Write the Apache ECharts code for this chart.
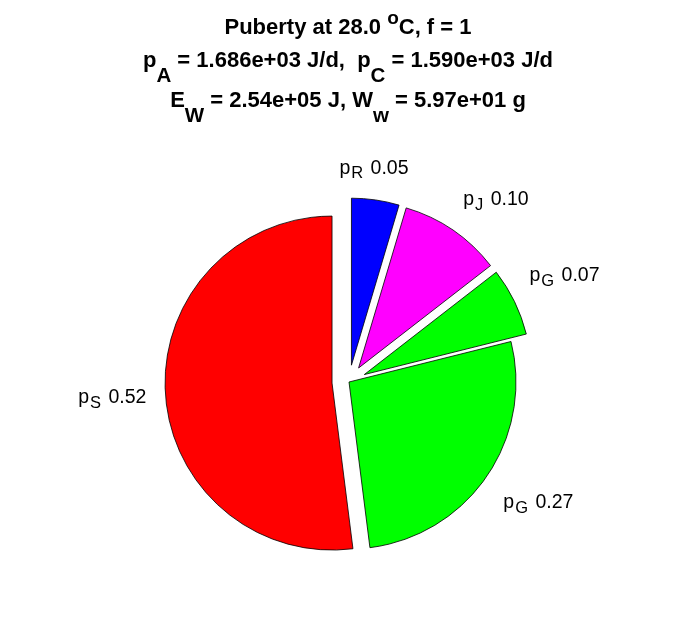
<!DOCTYPE html>
<html><head><meta charset="utf-8">
<script src="https://cdn.jsdelivr.net/npm/echarts@6/dist/echarts.min.js"></script>
<style>html,body{margin:0;padding:0;background:#fff}#c{width:696px;height:618px}</style>
</head><body><div id="c"></div>
<script>
// ---- data ----
const sliceSymbols = ['R', 'J', 'G', 'G', 'S'];
const sliceValues = [0.046, 0.099, 0.066, 0.269, 0.520];
const sliceColors = ['#0000ff', '#ff00ff', '#00ff00', '#00ff00', '#ff0000'];
const sliceExploded = [true, true, true, false, true];
const titleTemp = '28.0';
const titleF = '1';
const valPA = '1.686e+03';
const valPC = '1.590e+03';
const valEW = '2.54e+05';
const valWw = '5.97e+01';

// label nudges (px) to mimic MATLAB text placement
const labelNudge = [[-44, -12], [-6, -14], [-8, -17], [-5, 15], [6, 3]];

const FONT = '"Liberation Sans", Arial, Helvetica, sans-serif';
const tMain = {fontFamily: FONT, fontSize: 22, fontWeight: 'bold', color: '#000', lineHeight: 24, verticalAlign: 'top'};
const tSub = Object.assign({}, tMain, {fontSize: 20.5, padding: [16, 0, 0, 0]});
const tSup = Object.assign({}, tMain, {fontSize: 19});
const lMain = {fontFamily: FONT, fontSize: 19.5, color: '#000', lineHeight: 20, verticalAlign: 'top'};
const lSub = Object.assign({}, lMain, {fontSize: 16.5, padding: [7, 2, 0, 1]});

const chart = echarts.init(document.getElementById('c'), null, {renderer: 'canvas'});
const option = {
  animation: false,
  backgroundColor: '#fff',
  title: [
    {left: 'center', top: 9, padding: 0,
     text: `{m|Puberty at ${titleTemp} }{u|o}{m|C, f = ${titleF}}`,
     textStyle: {rich: {m: Object.assign({}, tMain, {padding: [7.5, 0, 0, 0]}), u: tSup}}},
    {left: 'center', top: 49.5, padding: 0,
     text: `{m|p}{s|A}{m| = ${valPA} J/d,  p}{s|C}{m| = ${valPC} J/d}`,
     textStyle: {rich: {m: tMain, s: tSub}}},
    {left: 'center', top: 89.5, padding: 0,
     text: `{m|E}{s|W}{m| = ${valEW} J, W}{s|w}{m| = ${valWw} g}`,
     textStyle: {rich: {m: tMain, s: tSub}}}
  ],
  series: [{
    type: 'pie',
    center: [349, 382],
    radius: 167,
    startAngle: 90,
    clockwise: true,
    avoidLabelOverlap: false,
    selectedMode: 'multiple',
    selectedOffset: 17,
    emphasis: {disabled: true},
    label: {
      show: true,
      position: 'outside',
      formatter: p => `{m|p}{s|${sliceSymbols[p.dataIndex]}}{m| ${sliceValues[p.dataIndex].toFixed(2)}}`,
      rich: {m: lMain, s: lSub}
    },
    labelLine: {show: false, length: 20, length2: 0},
    labelLayout: p => ({dx: labelNudge[p.dataIndex][0], dy: labelNudge[p.dataIndex][1]}),
    itemStyle: {borderColor: '#000', borderWidth: 0.8},
    data: sliceValues.map((v, i) => ({
      value: v,
      name: 'p' + sliceSymbols[i] + i,
      selected: sliceExploded[i],
      itemStyle: {color: sliceColors[i]}
    }))
  }]
};
chart.setOption(option);
</script>
</body></html>
